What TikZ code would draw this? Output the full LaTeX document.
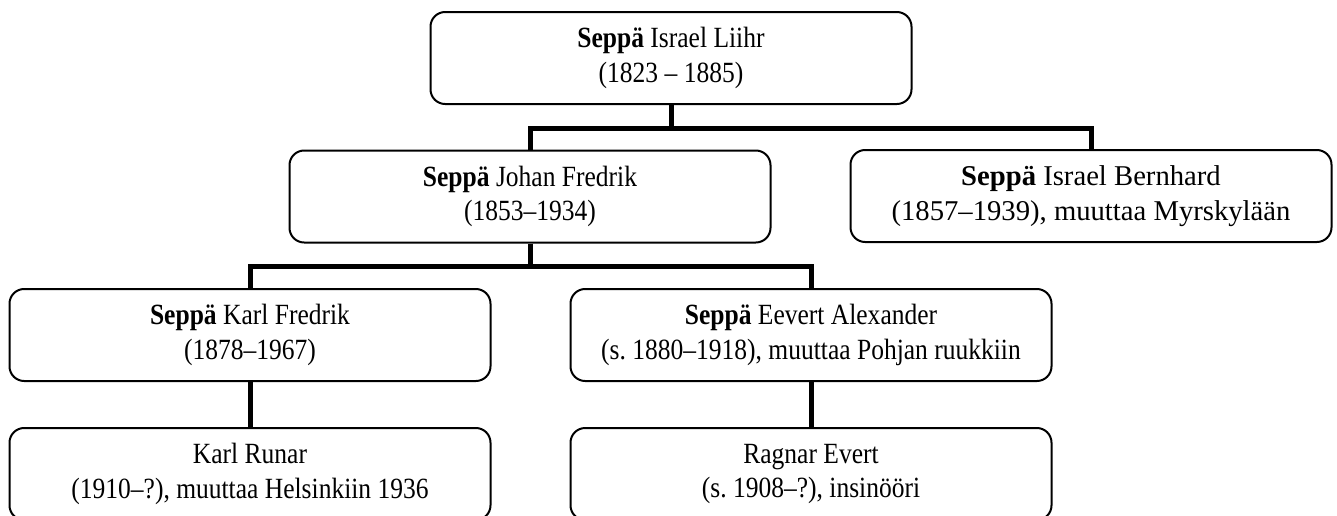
\documentclass[tikz,border=0pt]{standalone}
\usepackage{fontspec}
\setmainfont{Liberation Serif}[FakeStretch=0.87]
\newfontfamily\widefont{Liberation Serif}
\begin{document}
\begin{tikzpicture}[x=0.75pt,y=0.75pt,yscale=-1,xscale=1,
  person/.style={draw, line width=1.5pt, rounded corners=11pt, minimum width=360.75pt, minimum height=69pt, align=center, inner sep=0pt, font=\fontsize{22}{26}\selectfont},
  widetext/.style={font=\widefont\fontsize{21.5}{26}\selectfont},
  link/.style={line width=3.75pt}]
\useasboundingbox (0,0) rectangle (1337,515);
%Shape: Rounded Rect [liihr]
\node[person] (liihr) at (671,58) {\textbf{Seppä} Israel Liihr\\(1823 – 1885)};
%Shape: Rounded Rect [johan]
\node[person] (johan) at (530,196.5) {\textbf{Seppä} Johan Fredrik\\(1853–1934)};
%Shape: Rounded Rect [bernhard]
\node[person, widetext] (bernhard) at (1091,196) {\textbf{Seppä} Israel Bernhard\\(1857–1939), muuttaa Myrskylään};
%Shape: Rounded Rect [kfredrik]
\node[person] (kfredrik) at (250,335) {\textbf{Seppä} Karl Fredrik\\(1878–1967)};
%Shape: Rounded Rect [eevert]
\node[person] (eevert) at (811,335) {\textbf{Seppä} Eevert Alexander\\(s.\ 1880–1918), muuttaa Pohjan ruukkiin};
%Shape: Rounded Rect [runar]
\node[person] (runar) at (250,474) {Karl Runar\\(1910–?), muuttaa Helsinkiin 1936};
%Shape: Rounded Rect [ragnar]
\node[person] (ragnar) at (811,474) {Ragnar Evert\\(s.\ 1908–?), insinööri};
%Straight Lines
\draw[link] (liihr.south) -- ++(0,23) -| (johan.north);
\draw[link] (liihr.south) -- ++(0,23) -| (bernhard.north);
\draw[link] (johan.south) -- ++(0,23) -| (kfredrik.north);
\draw[link] (johan.south) -- ++(0,23) -| (eevert.north);
\draw[link] (kfredrik.south) -- (runar.north);
\draw[link] (eevert.south) -- (ragnar.north);
\end{tikzpicture}
\end{document}
